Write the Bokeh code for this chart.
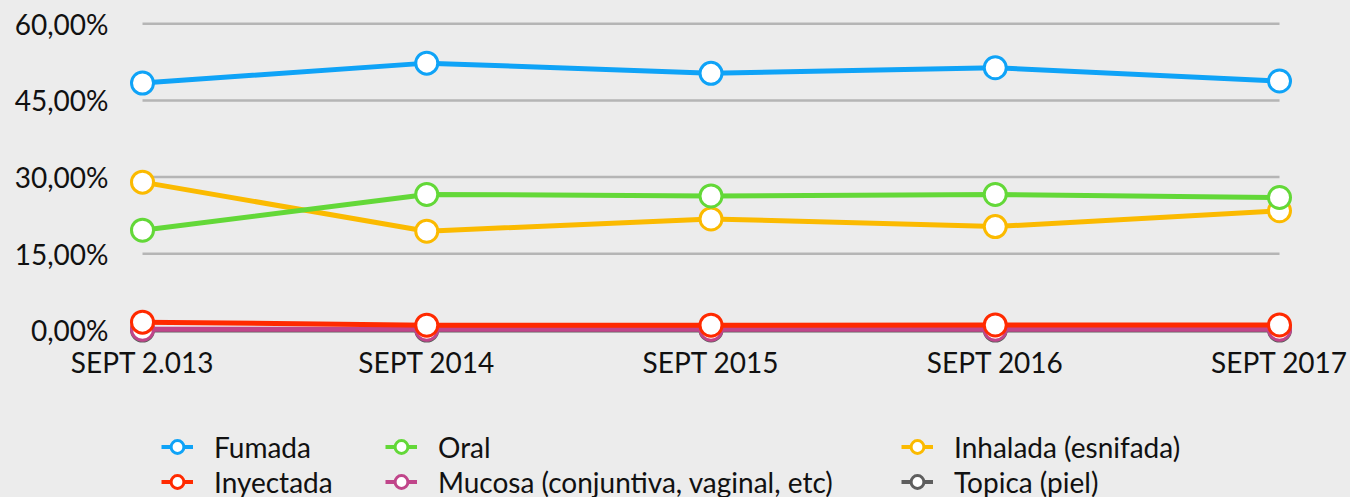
from bokeh.plotting import figure
from bokeh.layouts import column
from bokeh.models import FixedTicker, Range1d, Legend, LegendItem, ColumnDataSource
from bokeh.embed import file_html
from bokeh.resources import INLINE

categories = ["SEPT 2.013", "SEPT 2014", "SEPT 2015", "SEPT 2016", "SEPT 2017"]
fumada = [48.4, 52.3, 50.3, 51.4, 48.8]
oral = [19.6, 26.6, 26.3, 26.6, 26.0]
inhalada = [29.0, 19.4, 21.8, 20.3, 23.4]
inyectada = [1.6, 1.0, 1.0, 1.05, 1.05]
mucosa = [0.2, 0.2, 0.2, 0.2, 0.2]
topica = [0.05, 0.05, 0.05, 0.05, 0.05]
y_ticks = [0, 15, 30, 45, 60]
y_labels = ["0,00%", "15,00%", "30,00%", "45,00%", "60,00%"]

series = [
    ("Fumada", fumada, "#0fa3f7"),
    ("Oral", oral, "#63d838"),
    ("Inhalada (esnifada)", inhalada, "#fbba00"),
    ("Inyectada", inyectada, "#ff2a00"),
    ("Mucosa (conjuntiva, vaginal, etc)", mucosa, "#c0458a"),
    ("Topica (piel)", topica, "#5e5e5e"),
]

FONT = "Lato"
BG = "#ececec"
TXT = "#111111"
xs = list(range(len(categories)))

p = figure(width=1350, height=405, output_backend="svg", toolbar_location=None,
           x_range=Range1d(-0.0774, 4.109), y_range=Range1d(-2.78, 64.56),
           min_border_left=120, min_border_right=40, min_border_top=0, min_border_bottom=61,
           background_fill_color=BG, border_fill_color=BG, outline_line_color=None)
p.xgrid.visible = False
p.ygrid.visible = False

# gridlines spanning first to last category
p.segment(x0=[xs[0]] * len(y_ticks), x1=[xs[-1]] * len(y_ticks), y0=y_ticks, y1=y_ticks,
          line_color="#b5b5b5", line_width=2.5)

# legend-only figure: same series drawn out of its visible range
q = figure(width=1350, height=92, output_backend="svg", toolbar_location=None,
           x_range=Range1d(100, 101), y_range=Range1d(100, 101),
           x_axis_location=None, y_axis_location=None,
           min_border_left=0, min_border_right=0, min_border_top=0, min_border_bottom=0,
           background_fill_color=BG, border_fill_color=BG, outline_line_color=None)
q.grid.visible = False

renderers = {}
for name, vals, col in reversed(series):
    src = ColumnDataSource(dict(x=xs, y=vals))
    p.line("x", "y", source=src, line_color=col, line_width=5)
    p.scatter("x", "y", source=src, size=22, fill_color="white", line_color=col, line_width=3)
    l = q.line("x", "y", source=src, line_color=col, line_width=4)
    s = q.scatter("x", "y", source=src, size=22, fill_color="white", line_color=col, line_width=3)
    renderers[name] = [l, s]

p.xaxis.ticker = FixedTicker(ticks=xs)
p.xaxis.major_label_overrides = {i: c for i, c in zip(xs, categories)}
p.yaxis.ticker = FixedTicker(ticks=y_ticks)
p.yaxis.major_label_overrides = {t: l for t, l in zip(y_ticks, y_labels)}
for ax in (p.xaxis[0], p.yaxis[0]):
    ax.axis_line_color = None
    ax.major_tick_line_color = None
    ax.minor_tick_line_color = None
    ax.major_tick_out = 0
    ax.major_tick_in = 0
    ax.major_label_text_font = FONT
    ax.major_label_text_font_size = "28px"
    ax.major_label_text_color = TXT
p.xaxis.major_label_standoff = 0
p.yaxis.major_label_standoff = 12

cols = [(["Fumada", "Inyectada"], 41), (["Oral", "Mucosa (conjuntiva, vaginal, etc)"], 265),
        (["Inhalada (esnifada)", "Topica (piel)"], 781)]
for names, xloc in cols:
    leg = Legend(items=[LegendItem(label=n, renderers=renderers[n]) for n in names],
                 location=(xloc, -2), orientation="vertical",
                 background_fill_alpha=0, border_line_color=None, padding=0, margin=0,
                 spacing=0, glyph_width=32, glyph_height=35, label_standoff=21,
                 label_text_font=FONT, label_text_font_size="28px", label_text_color=TXT)
    q.add_layout(leg, "center")

layout = column(p, q, spacing=0, styles={"background-color": BG})
open("out.html", "w").write(file_html(layout, INLINE))
